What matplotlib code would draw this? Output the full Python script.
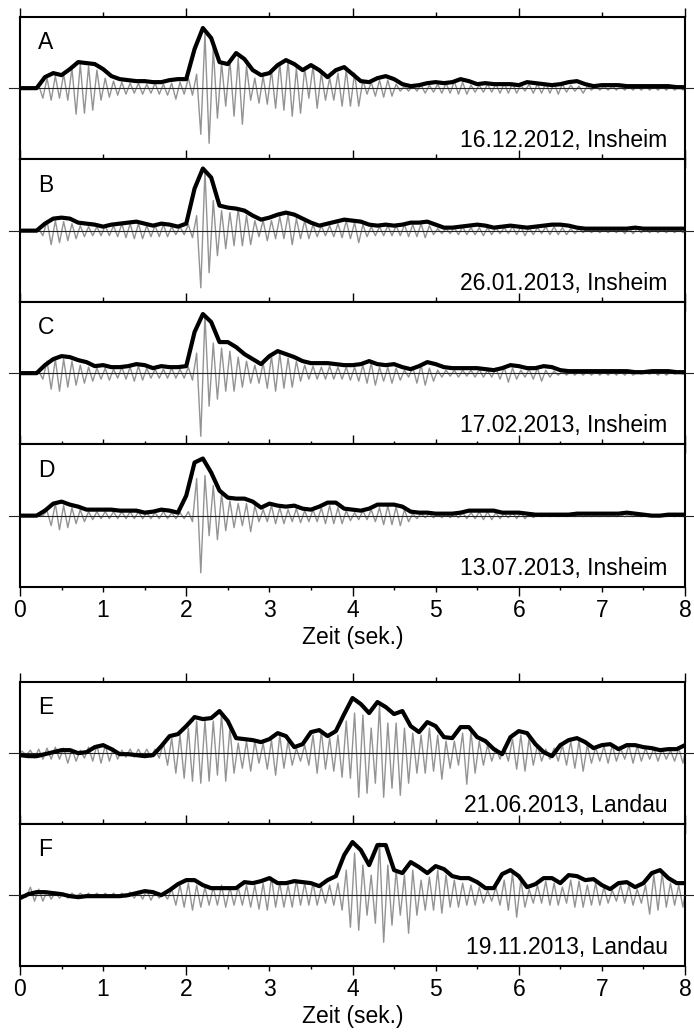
# Seismogramme mit Huellkurven, Insheim / Landau
import numpy as np
import matplotlib.pyplot as plt

plt.rcParams['font.family'] = ['Liberation Sans', 'DejaVu Sans']

DT = 0.1

letters = ['A', 'B', 'C', 'D', 'E', 'F']
events = ['16.12.2012, Insheim', '26.01.2013, Insheim', '17.02.2013, Insheim',
          '13.07.2013, Insheim', '21.06.2013, Landau', '19.11.2013, Landau']

# Huellkurven (schwarz), Werte bei t = 0.0, 0.1, ... 8.0
env_a = [0, 0, 0, 11, 15, 13, 19, 26, 25, 24,
         19, 12, 9, 8, 7, 7, 6, 6, 8, 9,
         9, 39, 60, 50, 26, 24, 35, 29, 18, 13,
         15, 23, 28, 24, 18, 23, 18, 11, 18, 21,
         14, 7, 6, 10, 12, 9, 4, 2, 3, 5,
         6, 5, 6, 9, 7, 4, 5, 4, 4, 4,
         3, 6, 5, 4, 3, 4, 6, 7, 4, 2,
         3, 3, 3, 2, 2, 2, 2, 2, 2, 1, 1]
env_b = [0, 0, 0, 7, 12, 13, 12, 8, 7, 6,
         4, 6, 7, 8, 9, 7, 5, 7, 6, 4,
         7, 42, 62, 53, 25, 23, 22, 20, 15, 11,
         13, 16, 18, 16, 12, 8, 5, 7, 9, 11,
         10, 9, 6, 5, 6, 5, 6, 8, 8, 9,
         6, 3, 3, 4, 5, 6, 5, 3, 4, 5,
         4, 3, 4, 5, 6, 6, 5, 3, 2, 2,
         2, 2, 2, 2, 3, 2, 2, 2, 2, 2, 2]
env_c = [0, 0, 0, 8, 14, 17, 16, 13, 11, 7,
         8, 6, 6, 7, 9, 8, 5, 7, 6, 6,
         7, 41, 59, 51, 31, 31, 26, 19, 14, 9,
         17, 22, 19, 16, 12, 10, 10, 10, 9, 8,
         8, 9, 12, 9, 8, 9, 6, 4, 7, 11,
         9, 6, 5, 5, 5, 5, 4, 3, 5, 8,
         7, 5, 5, 7, 6, 3, 2, 2, 2, 2,
         2, 2, 2, 2, 1, 1, 2, 2, 2, 1, 1]
env_d = [0, 0, 0, 5, 12, 14, 11, 9, 6, 6,
         6, 6, 5, 5, 5, 3, 4, 6, 5, 3,
         20, 53, 57, 43, 25, 18, 17, 17, 14, 8,
         12, 10, 9, 10, 7, 6, 9, 13, 13, 7,
         6, 5, 7, 11, 11, 11, 9, 4, 3, 3,
         2, 2, 2, 3, 5, 5, 5, 5, 3, 3,
         3, 2, 1, 1, 1, 1, 1, 2, 2, 2,
         2, 2, 2, 3, 2, 1, 0, 0, 1, 1, 1]
env_e = [-2, -3, -3, -1, 1, 3, 3, 0, 1, 6,
         8, 4, -1, -1, -2, -3, -2, 7, 17, 19,
         27, 36, 34, 35, 42, 32, 15, 14, 13, 11,
         14, 20, 17, 6, 9, 21, 23, 17, 22, 39,
         55, 49, 40, 51, 46, 39, 42, 27, 21, 31,
         27, 16, 15, 26, 26, 16, 12, 4, -1, 16,
         22, 20, 9, 1, -3, 8, 13, 15, 11, 5,
         8, 9, 4, 8, 8, 6, 5, 3, 4, 4, 8]
env_f = [-3, 1, 3, 3, 2, 1, -1, -2, -1, -1,
         -1, -1, -1, 0, 2, 4, 3, 0, 5, 11,
         15, 15, 10, 7, 7, 7, 7, 13, 12, 14,
         17, 12, 12, 14, 13, 12, 9, 15, 19, 40,
         53, 45, 30, 50, 50, 25, 22, 33, 28, 22,
         29, 26, 19, 17, 17, 13, 7, 7, 21, 25,
         19, 8, 11, 17, 17, 12, 20, 19, 15, 16,
         10, 6, 12, 13, 8, 12, 22, 25, 17, 12, 12]

# Seismogramme (grau): Maximum / Minimum je 0.1 s Fenster
up_a = [0, 0, 3, 10, 12, 14, 20, 24, 22, 18,
        10, 7, 6, 5, 5, 4, 5, 4, 5, 6,
        10, 14, 54, 40, 25, 28, 30, 22, 10, 12,
        18, 25, 28, 20, 20, 22, 15, 10, 15, 18,
        15, 8, 6, 8, 8, 4, 2, 3, 3, 3,
        4, 5, 7, 6, 3, 3, 4, 4, 5, 5,
        3, 4, 4, 5, 5, 4, 3, 2, 2, 2,
        2, 2, 2, 2, 2, 2, 2, 2, 2, 2]
dn_a = [0, 0, 10, 12, 10, 12, 26, 25, 22, 12,
        9, 7, 6, 5, 6, 5, 6, 7, 11, 6,
        7, 46, 55, 30, 18, 28, 36, 12, 15, 16,
        20, 22, 28, 25, 10, 20, 12, 12, 18, 18,
        18, 6, 8, 9, 8, 3, 3, 3, 5, 4,
        5, 5, 6, 6, 4, 4, 4, 5, 5, 5,
        3, 5, 5, 5, 6, 4, 3, 5, 2, 2,
        2, 2, 2, 2, 2, 2, 2, 2, 2, 2]
up_b = [0, 0, 2, 10, 10, 9, 7, 5, 4, 4,
        5, 5, 7, 7, 7, 5, 5, 6, 4, 4,
        6, 15, 60, 30, 20, 18, 22, 15, 10, 10,
        10, 14, 16, 12, 10, 6, 5, 5, 7, 10,
        8, 6, 4, 4, 5, 5, 6, 6, 7, 5,
        2, 2, 3, 4, 3, 3, 3, 3, 3, 4,
        4, 3, 3, 4, 4, 3, 2, 2, 2, 2,
        2, 2, 3, 3, 2, 2, 2, 2, 2, 2]
dn_b = [0, 0, 5, 14, 12, 10, 8, 6, 5, 5,
        5, 6, 7, 8, 8, 6, 6, 6, 4, 4,
        7, 57, 42, 25, 18, 15, 15, 14, 6, 10,
        8, 8, 14, 8, 8, 6, 5, 6, 7, 8,
        12, 6, 5, 5, 5, 5, 6, 6, 7, 4,
        3, 3, 4, 4, 4, 5, 4, 3, 3, 4,
        5, 4, 3, 4, 4, 4, 3, 2, 2, 2,
        2, 2, 3, 3, 2, 2, 2, 2, 2, 2]
up_c = [0, 0, 2, 12, 14, 14, 12, 8, 6, 5,
        5, 4, 6, 6, 7, 5, 4, 4, 5, 4,
        6, 20, 58, 30, 25, 22, 16, 12, 8, 10,
        17, 20, 15, 12, 8, 7, 6, 7, 6, 6,
        6, 8, 10, 6, 6, 5, 3, 6, 8, 5,
        3, 3, 3, 3, 3, 4, 3, 5, 6, 5,
        3, 4, 5, 3, 2, 2, 2, 2, 2, 2,
        2, 2, 2, 2, 1, 1, 2, 2, 1, 1]
dn_c = [0, 0, 6, 16, 18, 14, 12, 10, 8, 6,
        7, 5, 6, 8, 7, 5, 5, 5, 5, 5,
        7, 63, 33, 26, 18, 18, 14, 10, 10, 15,
        18, 15, 14, 8, 6, 6, 6, 6, 6, 7,
        8, 10, 12, 8, 10, 7, 4, 10, 12, 8,
        4, 3, 4, 3, 4, 4, 4, 6, 9, 6,
        4, 6, 8, 4, 2, 2, 2, 2, 2, 2,
        2, 2, 2, 2, 1, 1, 2, 2, 1, 1]
up_d = [0, 0, 0, 5, 12, 10, 8, 6, 4, 4,
        4, 4, 4, 4, 4, 3, 3, 4, 3, 3,
        4, 37, 40, 30, 22, 15, 12, 12, 10, 6,
        10, 8, 6, 7, 5, 6, 8, 10, 8, 5,
        3, 5, 6, 8, 10, 9, 6, 2, 2, 2,
        2, 2, 2, 3, 3, 4, 4, 3, 2, 3,
        3, 2, 1, 1, 1, 1, 1, 1, 1, 1,
        1, 1, 1, 1, 1, 1, 1, 1, 1, 1]
dn_d = [0, 0, 0, 10, 14, 12, 8, 6, 4, 3,
        3, 3, 3, 3, 3, 3, 3, 3, 3, 3,
        6, 57, 20, 24, 15, 12, 10, 16, 6, 6,
        8, 8, 6, 7, 6, 6, 8, 8, 8, 5,
        4, 4, 6, 9, 9, 10, 6, 3, 2, 2,
        2, 2, 2, 3, 3, 4, 4, 3, 2, 3,
        3, 2, 1, 1, 1, 1, 1, 1, 1, 1,
        1, 1, 1, 1, 1, 1, 1, 1, 1, 1]
up_e = [2, 3, 4, 5, 6, 5, 4, 3, 6, 8,
        8, 5, 3, 4, 4, 4, 4, 10, 15, 18,
        25, 32, 33, 32, 40, 25, 10, 12, 12, 10,
        13, 18, 12, 5, 8, 18, 22, 15, 18, 32,
        40, 38, 25, 48, 30, 30, 25, 20, 18, 25,
        18, 12, 12, 20, 22, 12, 8, 5, 6, 14,
        18, 15, 8, 4, 5, 8, 12, 12, 8, 6,
        7, 8, 5, 8, 7, 5, 5, 4, 3, 5]
dn_e = [2, 5, 6, 6, 6, 10, 8, 5, 8, 10,
        8, 6, 4, 4, 4, 4, 5, 12, 20, 25,
        28, 30, 28, 22, 28, 20, 15, 18, 10, 16,
        22, 15, 12, 8, 12, 20, 16, 18, 24, 25,
        44, 40, 30, 44, 35, 42, 30, 20, 20, 18,
        26, 15, 12, 31, 20, 12, 8, 6, 8, 16,
        18, 12, 8, 6, 8, 12, 15, 18, 10, 8,
        10, 8, 6, 10, 8, 6, 8, 6, 8, 10]
up_f = [0, 8, 6, 4, 3, 2, 2, 2, 2, 2,
        2, 2, 2, 3, 4, 5, 3, 2, 6, 10,
        12, 10, 8, 8, 10, 8, 8, 10, 10, 12,
        18, 12, 10, 15, 12, 12, 8, 10, 12, 25,
        42, 30, 20, 52, 30, 25, 20, 25, 15, 18,
        25, 20, 15, 12, 10, 8, 5, 8, 15, 22,
        15, 6, 10, 14, 12, 8, 15, 14, 10, 12,
        8, 5, 10, 10, 6, 10, 20, 22, 12, 10]
dn_f = [2, 6, 6, 4, 3, 3, 2, 2, 2, 2,
        2, 2, 2, 3, 4, 5, 3, 4, 10, 12,
        15, 12, 10, 10, 12, 10, 10, 12, 14, 15,
        12, 12, 12, 10, 10, 10, 8, 10, 15, 32,
        35, 20, 28, 47, 30, 20, 38, 20, 15, 15,
        18, 12, 12, 10, 10, 8, 6, 10, 15, 22,
        12, 8, 8, 10, 10, 8, 12, 12, 10, 10,
        8, 6, 8, 10, 8, 19, 15, 12, 10, 12]

envs = [env_a, env_b, env_c, env_d, env_e, env_f]
ups = [up_a, up_b, up_c, up_d, up_e, up_f]
dns = [dn_a, dn_b, dn_c, dn_d, dn_e, dn_f]


def trace(up, dn):
    # Maximum in der ersten, Minimum in der zweiten Haelfte jedes Fensters
    t = [0.0]
    y = [0.0]
    for i, (u, d) in enumerate(zip(up, dn)):
        t += [i * DT + DT / 4, i * DT + 3 * DT / 4]
        y += [u, -d]
    t.append(8.0)
    y.append(0.0)
    return np.array(t), np.array(y)


W, H = 694, 1032
fig = plt.figure(figsize=(W / 100, H / 100), dpi=100)

# Panel-Oberkanten in Pixeln, letzter Panel jeder Gruppe bekommt Beschriftung
tops = [17, 159.5, 302, 444.5, 682, 824]
ph = 142.3
last = [False, False, False, True, False, True]

for k in range(6):
    ax = fig.add_axes([20 / W, 1 - (tops[k] + ph) / H, 665 / W, ph / H])
    t_env = np.arange(len(envs[k])) * DT
    tg, yg = trace(ups[k], dns[k])
    ax.plot(tg, yg, color='#939393', lw=1.0, zorder=2)
    ax.axhline(0, xmin=-0.016, xmax=1.02, color='#222222', lw=0.8,
               clip_on=False, zorder=3)
    ax.plot(t_env, envs[k], color='black', lw=3.0, zorder=4,
            solid_joinstyle='round', solid_capstyle='round')

    ax.set_xlim(0, 8)
    ax.set_ylim(-71, 71)
    ax.set_yticks([])
    ax.set_xticks(range(9))
    if last[k]:
        ax.set_xticks(np.arange(0.5, 8, 1.0), minor=True)
    ax.tick_params(axis='x', which='major', direction='out', top=True,
                   bottom=True, length=3.6, width=1.0, pad=5,
                   labelbottom=last[k], labelsize=16.5)
    ax.tick_params(axis='x', which='minor', direction='out', top=True,
                   bottom=True, length=2.2, width=1.0)
    for tk, v in zip(ax.xaxis.get_major_ticks(), range(9)):
        if v % 2 == 0:
            tk.tick1line.set_markersize(6.8)
            tk.tick2line.set_markersize(6.8)
    for s in ax.spines.values():
        s.set_linewidth(1.5)

    ax.text(0.027, 0.82, letters[k], transform=ax.transAxes,
            fontsize=16.5, ha='left', va='center')
    ax.text(0.974, 0.13, events[k], transform=ax.transAxes,
            fontsize=16.5, ha='right', va='center')
    if last[k]:
        ax.set_xlabel('Zeit (sek.)', fontsize=16.5, labelpad=3)

fig.savefig('out.png', dpi=100)
